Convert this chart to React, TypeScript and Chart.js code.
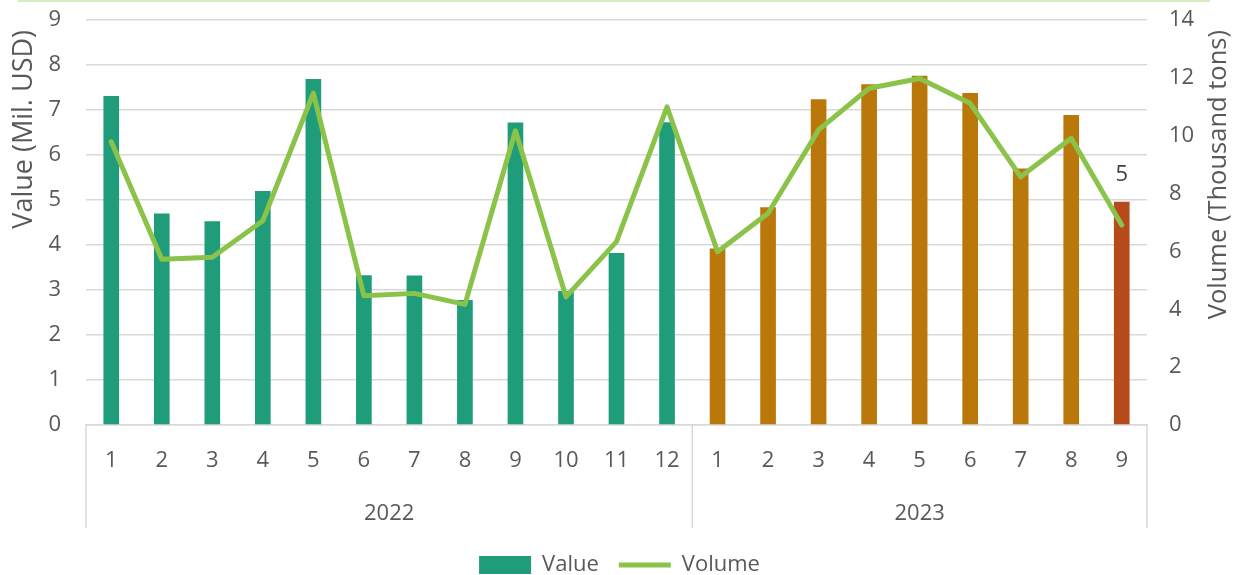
import React, { useEffect, useRef } from "react";
import { Chart, registerables } from "chart.js";

Chart.register(...registerables);

// ---- data ----
const months2022 = ["1", "2", "3", "4", "5", "6", "7", "8", "9", "10", "11", "12"];
const months2023 = ["1", "2", "3", "4", "5", "6", "7", "8", "9"];
const years = ["2022", "2023"];

const value2022 = [7.31, 4.7, 4.53, 5.2, 7.69, 3.33, 3.32, 2.78, 6.72, 2.98, 3.82, 6.73];
const value2023 = [3.92, 4.84, 7.24, 7.57, 7.76, 7.38, 5.7, 6.89, 4.96];

const volume2022 = [9.79, 5.73, 5.8, 7.06, 11.47, 4.47, 4.55, 4.17, 10.17, 4.43, 6.34, 11.0];
const volume2023 = [5.99, 7.32, 10.2, 11.64, 11.98, 11.12, 8.58, 9.91, 6.91];

const leftAxis = { min: 0, max: 9, step: 1, title: "Value (Mil. USD)" };
const rightAxis = { min: 0, max: 14, step: 2, title: "Volume (Thousand tons)" };
const seriesNames = ["Value", "Volume"];

// ---- styles ----
const FONT = "'Open Sans', 'Noto Sans', sans-serif";
const TEXT = "#595959";
const GRID = "#d9d9d9";
const GREEN_BAR = "#1f9c7a";
const ORANGE_BAR = "#bb780a";
const RED_BAR = "#b64a1a";
const LINE_GREEN = "#8bc34a";

const decorPlugin = {
  id: "decor",
  afterDraw(chart: any) {
    const { ctx, chartArea, scales } = chart;
    const x = scales.x;
    const n1 = months2022.length;
    const n2 = months2023.length;
    ctx.save();
    // group separators
    const bounds = [
      chartArea.left,
      (x.getPixelForValue(n1 - 1) + x.getPixelForValue(n1)) / 2,
      chartArea.right,
    ];
    ctx.strokeStyle = GRID;
    ctx.lineWidth = 1.5;
    bounds.forEach((b) => {
      ctx.beginPath();
      ctx.moveTo(b, chartArea.bottom);
      ctx.lineTo(b, chartArea.bottom + 103);
      ctx.stroke();
    });
    // year labels
    ctx.font = `22px ${FONT}`;
    ctx.fillStyle = TEXT;
    ctx.textAlign = "center";
    ctx.textBaseline = "middle";
    const groups = [
      [0, n1 - 1],
      [n1, n1 + n2 - 1],
    ];
    years.forEach((yr, i) => {
      const c = (x.getPixelForValue(groups[i][0]) + x.getPixelForValue(groups[i][1])) / 2;
      ctx.fillText(yr, c, chartArea.bottom + 89);
    });
    // axis titles
    const drawTitle = (t: string, size: number, cx: number, topY: number) => {
      ctx.save();
      ctx.font = `${size}px ${FONT}`;
      ctx.translate(cx, topY);
      ctx.rotate(-Math.PI / 2);
      ctx.textAlign = "right";
      ctx.textBaseline = "middle";
      ctx.fillText(t, 0, 0);
      ctx.restore();
    };
    drawTitle(leftAxis.title, 27, 24, 30);
    drawTitle(rightAxis.title, 25.5, chartArea.right + 72, 30);
    // data label on last bar
    const meta = chart.getDatasetMeta(0);
    const idx = meta.data.length - 1;
    const bar = meta.data[idx];
    const v = chart.data.datasets[0].data[idx] as number;
    ctx.font = `22px ${FONT}`;
    ctx.fillStyle = "#404040";
    ctx.textAlign = "center";
    ctx.fillText(v.toFixed(0), bar.x, bar.y - 27);
    ctx.restore();
  },
};

export default function App() {
  const ref = useRef<HTMLCanvasElement | null>(null);

  useEffect(() => {
    if (!ref.current) return;
    const labels = [...months2022, ...months2023];
    const values = [...value2022, ...value2023];
    const volumes = [...volume2022, ...volume2023];
    const barColors = values.map((_, i) =>
      i < months2022.length ? GREEN_BAR : i === values.length - 1 ? RED_BAR : ORANGE_BAR
    );

    const chart = new Chart(ref.current, {
      type: "bar",
      data: {
        labels,
        datasets: [
          {
            type: "bar",
            label: seriesNames[0],
            data: values,
            backgroundColor: barColors,
            borderWidth: 0,
            barPercentage: 0.31,
            categoryPercentage: 1,
            yAxisID: "y",
            order: 2,
            pointStyle: "rect",
          } as any,
          {
            type: "line",
            label: seriesNames[1],
            data: volumes,
            borderColor: LINE_GREEN,
            backgroundColor: LINE_GREEN,
            borderWidth: 5,
            borderCapStyle: "round",
            borderJoinStyle: "round",
            pointRadius: 0,
            pointHoverRadius: 0,
            tension: 0,
            yAxisID: "y1",
            order: 1,
            pointStyle: "line",
          } as any,
        ],
      },
      options: {
        animation: false,
        responsive: true,
        maintainAspectRatio: false,
        layout: { padding: { top: 20, left: 0, right: 0, bottom: 0 } },
        plugins: {
          tooltip: { enabled: false },
          legend: {
            position: "bottom",
            labels: {
              usePointStyle: true,
              pointStyleWidth: 52,
              boxHeight: 18,
              padding: 20,
              color: TEXT,
              font: { size: 22, family: FONT },
              sort: (a: any, b: any) => a.datasetIndex - b.datasetIndex,
            },
          },
        },
        scales: {
          x: {
            grid: { display: false, drawTicks: false },
            border: { display: true, color: GRID, width: 1.5 },
            ticks: {
              color: TEXT,
              font: { size: 22, family: FONT },
              padding: 23,
              autoSkip: false,
              maxRotation: 0,
            },
            afterFit: (s: any) => {
              s.height = 109;
            },
          },
          y: {
            position: "left",
            min: leftAxis.min,
            max: leftAxis.max,
            grid: {
              color: GRID,
              lineWidth: 1.5,
              drawTicks: true,
              tickLength: 25,
              tickColor: "rgba(0,0,0,0)",
            },
            border: { display: false },
            ticks: {
              stepSize: leftAxis.step,
              color: TEXT,
              font: { size: 22, family: FONT },
              padding: 0,
            },
            afterFit: (s: any) => {
              s.width = 86;
            },
          },
          y1: {
            position: "right",
            min: rightAxis.min,
            max: rightAxis.max,
            grid: {
              display: true,
              drawOnChartArea: false,
              drawTicks: true,
              tickLength: 22,
              tickColor: "rgba(0,0,0,0)",
            },
            border: { display: false },
            ticks: {
              stepSize: rightAxis.step,
              color: TEXT,
              font: { size: 22, family: FONT },
              padding: 0,
            },
            afterFit: (s: any) => {
              s.width = 92;
            },
          },
        },
      },
      plugins: [decorPlugin],
    });
    return () => chart.destroy();
  }, []);

  return (
    <div
      style={{
        position: "fixed",
        left: 0,
        top: 0,
        width: 1239,
        height: 586,
        background: "#ffffff",
      }}
    >
      <div
        style={{
          position: "absolute",
          left: 18,
          top: 0,
          width: 1192,
          height: 2,
          background: "#d6ecc2",
        }}
      />
      <canvas ref={ref} />
    </div>
  );
}
